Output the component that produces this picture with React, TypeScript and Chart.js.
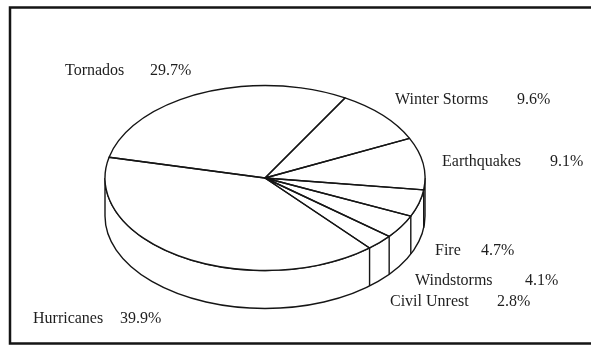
import React, { useEffect, useRef } from "react";
import { Chart, registerables } from "chart.js";

Chart.register(...registerables);

// Data (clockwise order starting at the Tornados / Winter Storms boundary)
const categories = ["Winter Storms", "Earthquakes", "Fire", "Windstorms", "Civil Unrest", "Hurricanes", "Tornados"];
const shares = [9.6, 9.1, 4.7, 4.1, 2.8, 39.9, 29.7];

// Layout of the text labels: [name x, percent x, baseline y]
const LABEL_LAYOUT: [number, number, number][] = [
  [395, 517, 104],
  [442, 550, 166],
  [435, 481, 255],
  [415, 525, 285],
  [390, 497, 306],
  [33, 120, 323],
  [65, 150, 75],
];

const TILT = 0.578; // vertical squash of the pie face
const DEPTH = 38; // thickness of the 3D side
const INK = "#151515";

const pie3d = {
  id: "pie3d",
  beforeDraw(chart: any) {
    const ctx = chart.ctx;
    ctx.save();
    ctx.fillStyle = "#fff";
    ctx.fillRect(0, 0, chart.width, chart.height);
    ctx.strokeStyle = INK;
    ctx.lineWidth = 2.5;
    ctx.beginPath();
    ctx.moveTo(600, 7.5);
    ctx.lineTo(10, 7.5);
    ctx.lineTo(10, 343.5);
    ctx.lineTo(600, 343.5);
    ctx.stroke();
    ctx.restore();
  },
  beforeDatasetsDraw(chart: any) {
    const ctx = chart.ctx;
    const arcs = chart.getDatasetMeta(0).data;
    if (!arcs.length) return;
    const cx = arcs[0].x, cy = arcs[0].y, r = arcs[0].outerRadius;
    const ry = r * TILT;
    ctx.save();
    ctx.strokeStyle = INK;
    ctx.lineWidth = 1.4;
    ctx.fillStyle = "#fff";
    // side wall
    ctx.beginPath();
    ctx.ellipse(cx, cy, r, ry, 0, 0, Math.PI, false);
    ctx.lineTo(cx - r, cy + DEPTH);
    ctx.ellipse(cx, cy + DEPTH, r, ry, 0, Math.PI, 0, true);
    ctx.closePath();
    ctx.fill();
    ctx.stroke();
    // vertical edges at slice boundaries on the front
    arcs.forEach((a: any) => {
      let t = a.endAngle % (Math.PI * 2);
      if (t < 0) t += Math.PI * 2;
      if (t > 0.01 && t < Math.PI - 0.01) {
        const x = cx + r * Math.cos(t);
        const y = cy + ry * Math.sin(t);
        ctx.beginPath();
        ctx.moveTo(x, y);
        ctx.lineTo(x, y + DEPTH);
        ctx.stroke();
      }
    });
    ctx.restore();
    // squash the face drawn by Chart.js
    ctx.save();
    ctx.translate(cx, cy);
    ctx.scale(1, TILT);
    ctx.translate(-cx, -cy);
  },
  afterDatasetsDraw(chart: any) {
    const ctx = chart.ctx;
    ctx.restore();
    const arcs = chart.getDatasetMeta(0).data;
    if (!arcs.length) return;
    ctx.save();
    ctx.strokeStyle = INK;
    ctx.lineWidth = 1.4;
    ctx.lineJoin = "round";
    arcs.forEach((a: any) => {
      const ry = a.outerRadius * TILT;
      ctx.beginPath();
      ctx.moveTo(a.x, a.y);
      ctx.ellipse(a.x, a.y, a.outerRadius, ry, 0, a.startAngle, a.endAngle, false);
      ctx.closePath();
      ctx.stroke();
    });
    ctx.restore();
  },
  afterDraw(chart: any) {
    const ctx = chart.ctx;
    ctx.save();
    ctx.fillStyle = "#1e1e1e";
    ctx.font = '16px "Liberation Serif", "DejaVu Serif", serif';
    ctx.textBaseline = "alphabetic";
    ctx.textAlign = "left";
    categories.forEach((name, i) => {
      const [nx, px, by] = LABEL_LAYOUT[i];
      ctx.fillText(name, nx, by);
      ctx.fillText(shares[i].toFixed(1) + "%", px, by);
    });
    ctx.restore();
  },
};

export default function App() {
  const ref = useRef<HTMLCanvasElement | null>(null);
  useEffect(() => {
    if (!ref.current) return;
    const chart = new Chart(ref.current, {
      type: "pie",
      data: {
        labels: categories,
        datasets: [
          {
            data: shares,
            backgroundColor: "#ffffff",
            borderWidth: 0,
          },
        ],
      },
      options: {
        responsive: false,
        animation: false,
        rotation: 30,
        layout: { padding: { left: 105, right: 166, top: 18, bottom: 9 } },
        plugins: {
          legend: { display: false },
          tooltip: { enabled: false },
        },
        events: [],
      },
      plugins: [pie3d],
    });
    return () => chart.destroy();
  }, []);
  return (
    <div style={{ position: "fixed", left: 0, top: 0, width: 591, height: 347, background: "#fff" }}>
      <canvas ref={ref} width={591} height={347} style={{ display: "block" }} />
    </div>
  );
}
